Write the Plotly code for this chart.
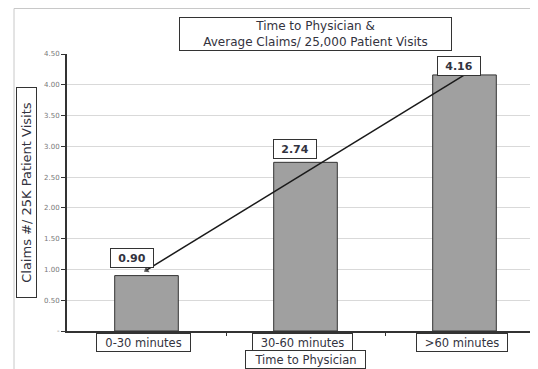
import plotly.graph_objects as go

categories = ["0-30 minutes", "30-60 minutes", ">60 minutes"]
claims = [0.90, 2.74, 4.16]
value_labels = ["0.90", "2.74", "4.16"]
y_tick_vals = [0, 0.5, 1.0, 1.5, 2.0, 2.5, 3.0, 3.5, 4.0, 4.5]
y_tick_text = ["-", "0.50", "1.00", "1.50", "2.00", "2.50", "3.00", "3.50", "4.00", "4.50"]
trend_y = [0.99, 4.16]

# label placement (style)
LABEL_YSHIFT = [8, 3, -1]
LABEL_XSHIFT = [-15, -11, -6]
CAT_WIDTH = [91, 97, 88]

FONT = "DejaVu Sans"
TXT = "#333340"
OFF = 8  # page body margin
W, H = 538 - OFF, 369 - OFF
L, R, T, B = 67 - OFF, 0, 54 - OFF, 369 - 331
pw, ph = W - L - R, H - T - B


def px(x):
    return (x - OFF - L) / pw


def py(y):
    return (H - B - (y - OFF)) / ph


idx = list(range(len(categories)))

fig = go.Figure()
fig.add_trace(go.Bar(
    x=idx, y=claims, width=0.4,
    marker=dict(color="#a0a0a0", line=dict(color="#333333", width=1)),
    hoverinfo="skip", showlegend=False,
))
fig.add_trace(go.Scatter(
    x=[idx[0], idx[-1]], y=trend_y, mode="lines+markers",
    line=dict(color="#1a1a1a", width=1.5),
    marker=dict(symbol="triangle-up", size=[6, 0], angle=[238, 0],
                color="#1a1a1a", line=dict(width=0)),
    hoverinfo="skip", showlegend=False,
))

annotations = []
# value labels
for i, (v, t) in enumerate(zip(claims, value_labels)):
    annotations.append(dict(
        x=i, y=v, xref="x", yref="y", text="<b>%s</b>" % t,
        showarrow=False, yanchor="bottom",
        yshift=LABEL_YSHIFT[i], xshift=LABEL_XSHIFT[i],
        font=dict(family=FONT, size=11, color=TXT),
        bordercolor="#333333", borderwidth=1, borderpad=1,
        bgcolor="white", width=40, height=16,
    ))
# category labels
for i, c in enumerate(categories):
    annotations.append(dict(
        x=i, y=0, xref="x", yref="y", text=c,
        showarrow=False, yanchor="top", yshift=-2, xshift=-3,
        font=dict(family=FONT, size=11.5, color=TXT),
        bordercolor="#333333", borderwidth=1, borderpad=1,
        bgcolor="white", height=15, width=CAT_WIDTH[i],
    ))
# title
annotations.append(dict(
    x=px(315.5), y=py(34), xref="paper", yref="paper",
    text="Time to Physician &<br>Average Claims/ 25,000 Patient Visits",
    showarrow=False, xanchor="center", yanchor="middle",
    font=dict(family=FONT, size=12, color=TXT),
    bordercolor="#333333", borderwidth=1, borderpad=1,
    bgcolor="white", width=269, height=30,
))
# y title
annotations.append(dict(
    x=px(26.5), y=py(192.5), xref="paper", yref="paper",
    text="Claims #/ 25K Patient Visits", textangle=-90,
    showarrow=False, xanchor="center", yanchor="middle",
    font=dict(family=FONT, size=13, color=TXT),
    bordercolor="#333333", borderwidth=1, borderpad=1,
    bgcolor="white", width=207, height=17,
))
# x title
annotations.append(dict(
    x=px(305.5), y=py(359.5), xref="paper", yref="paper",
    text="Time to Physician",
    showarrow=False, xanchor="center", yanchor="middle",
    font=dict(family=FONT, size=11.5, color=TXT),
    bordercolor="#333333", borderwidth=1, borderpad=1,
    bgcolor="white", width=117, height=15,
))

fig.update_layout(
    width=W, height=H,
    margin=dict(l=L, r=R, t=T, b=B),
    paper_bgcolor="white", plot_bgcolor="white",
    annotations=annotations,
    shapes=[dict(type="rect", xref="paper", yref="paper",
                 x0=px(14), x1=px(W + 40), y0=py(H + 40), y1=py(8.5),
                 line=dict(color="#c8c8c8", width=1), layer="below")],
    xaxis=dict(range=[-0.5, 2.5 - 6 / 159], tickvals=[0.5, 1.5], showticklabels=False,
               ticks="outside", ticklen=3, tickcolor="#333333",
               showgrid=False, zeroline=False, showline=True,
               linecolor="#333333", linewidth=2, fixedrange=True),
    yaxis=dict(range=[0, 4.5], tickvals=y_tick_vals, ticktext=y_tick_text,
               ticks="outside", ticklen=4, tickcolor="#333333",
               tickfont=dict(family=FONT, size=7, color="#777777"),
               showgrid=True, gridcolor="#d9d9d9", gridwidth=1,
               zeroline=False, showline=True, linecolor="#333333", linewidth=2,
               fixedrange=True),
)

fig.write_html("out.html")
